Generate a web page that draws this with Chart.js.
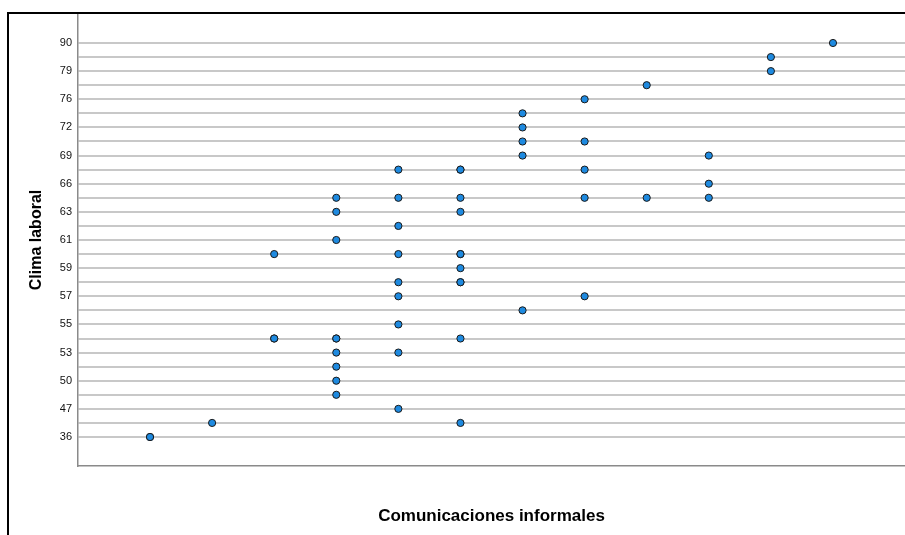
<!DOCTYPE html>
<html>
<head>
<meta charset="utf-8">
<script src="https://cdn.jsdelivr.net/npm/chart.js@4.4.1/dist/chart.umd.min.js"></script>
<style>
    body { margin: 0; background: #fff; }
    #wrap { width: 905px; height: 535px; }
</style>
</head>
<body>
<div id="wrap"><canvas id="scatterChart" width="905" height="535"></canvas></div>
<script>
// y categories (Clima laboral), ascending; only every other one is labelled
const climaLevels = [36, 45, 47, 49, 50, 52, 53, 54, 55, 56, 57, 58, 59, 60, 61, 62, 63, 65, 66, 68, 69, 71, 72, 74, 76, 77, 79, 80, 90];

// x categories (Comunicaciones informales), tick labels not shown
const comunicacionesLevels = [1, 2, 3, 4, 5, 6, 7, 8, 9, 10, 11, 12];

// one entry per respondent
const comunicaciones = [
    1, 1,
    2,
    3, 3, 3,
    4, 4, 4, 4, 4, 4, 4, 4, 4,
    5, 5, 5, 5, 5, 5, 5, 5, 5,
    6, 6, 6, 6, 6, 6, 6, 6, 6, 6, 6,
    7, 7, 7, 7, 7,
    8, 8, 8, 8, 8,
    9, 9,
    10, 10, 10,
    11, 11,
    12
];
const clima = [
    36, 36,
    45,
    60, 54, 54,
    65, 63, 61, 54, 54, 53, 52, 50, 49,
    68, 65, 62, 60, 58, 57, 55, 53, 47,
    68, 68, 65, 63, 60, 60, 59, 58, 58, 54, 45,
    74, 72, 71, 69, 56,
    76, 71, 68, 65, 57,
    77, 65,
    69, 66, 65,
    80, 79,
    90
];

const points = comunicaciones.map((x, i) => ({
    x: comunicacionesLevels.indexOf(x) + 1,
    y: climaLevels.indexOf(clima[i])
}));

const frame = {
    id: 'frame',
    afterDraw(chart) {
        const c = chart.ctx;
        c.save();
        c.fillStyle = '#000';
        c.fillRect(7, 12, 2, 523);
        c.fillRect(7, 12, 898, 2);
        c.restore();
    }
};

const ctx = document.getElementById('scatterChart').getContext('2d');

const chart = new Chart(ctx, {
    type: 'scatter',
    data: {
        datasets: [{
            label: 'Clima laboral',
            data: points,
            pointRadius: 3.6,
            pointHoverRadius: 3.6,
            backgroundColor: '#1e8ae0',
            borderColor: '#1a1a1a',
            borderWidth: 1
        }]
    },
    options: {
        responsive: false,
        animation: false,
        devicePixelRatio: 1,
        layout: { autoPadding: false, padding: { top: 14, left: 0, right: 0, bottom: 0 } },
        plugins: {
            legend: { display: false },
            tooltip: { enabled: false }
        },
        scales: {
            x: {
                type: 'linear',
                min: -0.16,
                max: 13.16,
                grid: { display: false },
                border: { display: true, color: '#8a8a8a', width: 1.5 },
                ticks: { display: false },
                title: {
                    display: true,
                    text: 'Comunicaciones informales',
                    color: '#000',
                    font: { family: '"Liberation Sans", Arial, sans-serif', size: 17, weight: 'bold' },
                    padding: { top: 0, bottom: 8 }
                },
                afterFit: (scale) => { scale.height = 69; }
            },
            y: {
                type: 'linear',
                min: -2.06,
                max: 30.06,
                afterBuildTicks: (scale) => {
                    scale.ticks = climaLevels.map((v, i) => ({ value: i }));
                },
                grid: { color: '#c8c8c8', lineWidth: 2, drawTicks: false },
                border: { display: true, color: '#8a8a8a', width: 1.5 },
                ticks: {
                    padding: 6,
                    autoSkip: false,
                    color: '#111',
                    font: { family: '"Liberation Sans", Arial, sans-serif', size: 11 },
                    callback: (value) => (value % 2 === 0 ? String(climaLevels[value]) : '')
                },
                title: {
                    display: true,
                    text: 'Clima laboral',
                    color: '#000',
                    font: { family: '"Liberation Sans", Arial, sans-serif', size: 16, weight: 'bold' },
                    padding: { top: 27, bottom: 0 }
                },
                afterFit: (scale) => { scale.width = 78; }
            }
        }
    },
    plugins: [frame]
});
</script>
</body>
</html>
